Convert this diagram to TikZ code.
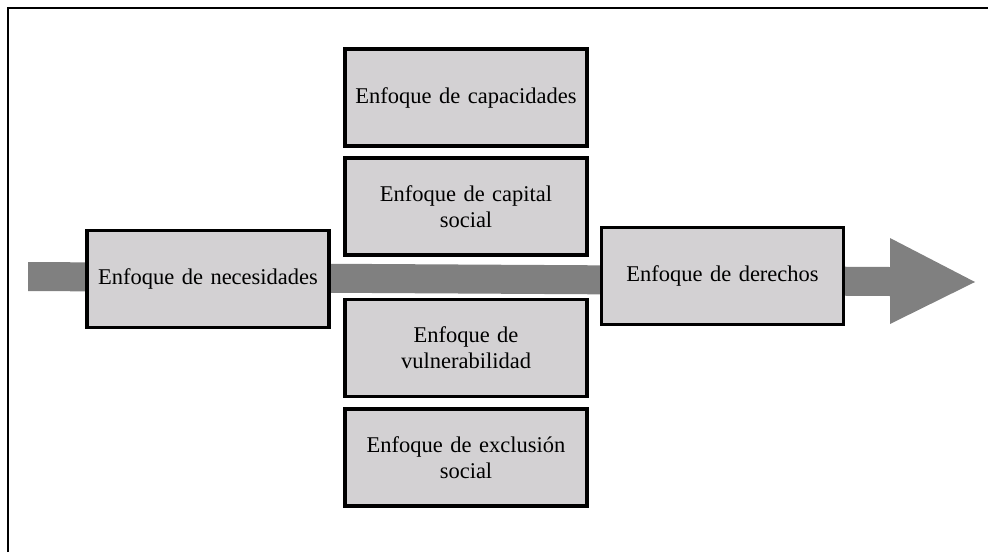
\documentclass[tikz,border=0pt]{standalone}
\usepackage{fontspec}
\setmainfont{Liberation Serif}
\definecolor{boxfill}{HTML}{D3D1D3}
\definecolor{arrowgray}{HTML}{808080}
\begin{document}
\begin{tikzpicture}[x=1pt,y=-1pt,
  focus/.style={draw=black, line width=3.6pt, fill=boxfill, minimum width=242pt, minimum height=97pt,
    inner sep=2pt, align=center, font=\fontsize{22.5}{26}\selectfont, text width=236pt}]
\useasboundingbox (0,0) rectangle (988,552);
% frame (left and top edges)
\coordinate (fbl) at (8,552);
\coordinate (ftl) at (8,8);
\coordinate (ftr) at (988,8);
\draw[line width=1.5pt] (fbl) -- (ftl) -- (ftr);
% big arrow
\coordinate (s1) at (28,262);
\coordinate (s2) at (890,267);
\coordinate (h1) at (890,238);
\coordinate (tip) at (975,282);
\coordinate (h2) at (890,324);
\coordinate (s3) at (890,296);
\coordinate (s4) at (28,291);
\fill[arrowgray] (s1) -- (s2) -- (h1) -- (tip) -- (h2) -- (s3) -- (s4) -- cycle;
% boxes
\node[focus] (nec) at (208,279) {Enfoque de necesidades};
\node[focus] (cap) at (466,97.5) {Enfoque de capacidades};
\node[focus] (csoc) at (466,206.5) {Enfoque de capital\\social};
\node[focus] (vul) at (466,348) {Enfoque de\\vulnerabilidad};
\node[focus] (exc) at (466,457.5) {Enfoque de exclusión\\social};
\node[focus] (der) at (722.5,276) {Enfoque de derechos};
\end{tikzpicture}
\end{document}
